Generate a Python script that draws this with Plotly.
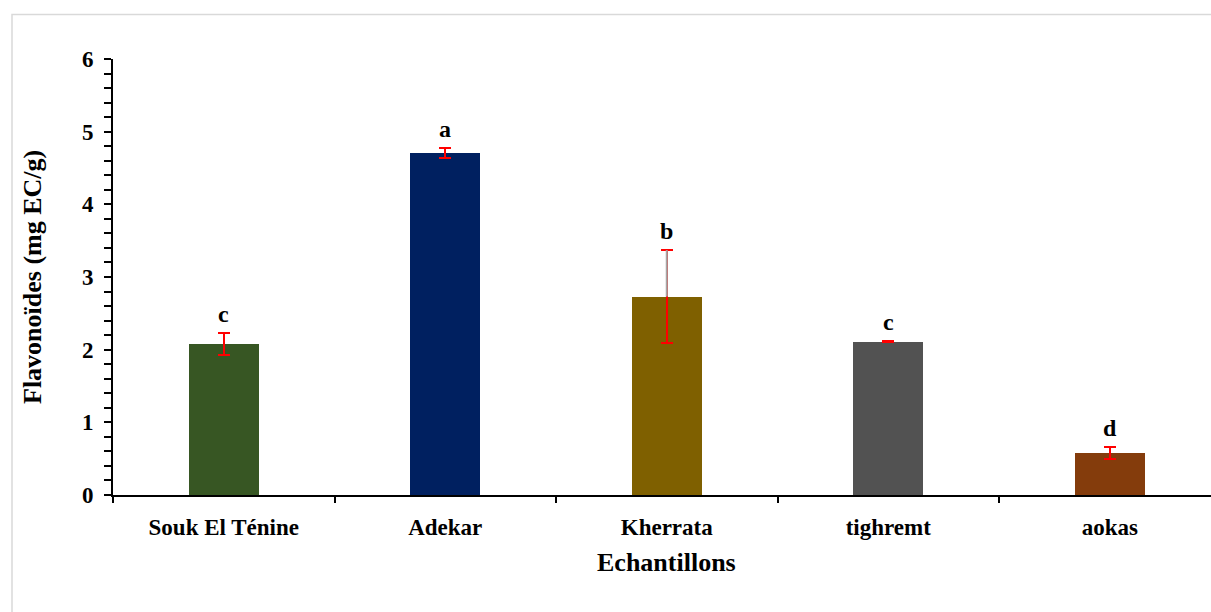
import plotly.graph_objects as go

# Flavonoid content per sample site (mg EC/g), mean ± standard deviation
sites = ["Souk El Ténine", "Adekar", "Kherrata", "tighremt", "aokas"]
means = [2.08, 4.71, 2.73, 2.11, 0.58]
sds = [0.15, 0.07, 0.64, 0.01, 0.085]
letters = ["c", "a", "b", "c", "d"]
colors = ["#375623", "#002060", "#7F6000", "#525252", "#843C0C"]
y_ticks = [0, 1, 2, 3, 4, 5, 6]

W, H = 1211, 612
ML, MR, MT, MB = 113, 0, 59, 117
plot_w = W - ML - MR
plot_h = H - MT - MB
step_px = 221.5  # pixel width of one category slot
x_max = -0.5 + plot_w / step_px

FONT = "Liberation Serif"

fig = go.Figure()

fig.add_trace(go.Bar(
    x=sites, y=means, width=0.316,
    marker=dict(color=colors, line=dict(width=0)),
    error_y=dict(type="data", array=sds, visible=True,
                 color="#FF0000", thickness=2, width=6),
    showlegend=False,
))

# Kherrata: upper whisker drawn in grey above the bar
k = sites.index("Kherrata")
fig.add_trace(go.Scatter(
    x=[sites[k]], y=[means[k]], mode="markers",
    marker=dict(size=1, opacity=0),
    error_y=dict(type="data", array=[sds[k]], arrayminus=[0], visible=True,
                 color="#A6A6A6", thickness=2, width=0),
    showlegend=False, hoverinfo="skip",
))

annotations = []
for s, m, e, l in zip(sites, means, sds, letters):
    annotations.append(dict(
        x=s, y=m + e, xref="x", yref="y", text=f"<b>{l}</b>",
        showarrow=False, yanchor="bottom", yshift=4,
        font=dict(family=FONT, size=24, color="black"),
    ))

def px_x(p):
    return (p - ML) / plot_w

def px_y(p):
    return (H - MB - p) / plot_h

annotations.append(dict(
    x=2, y=px_y(562), xref="x", yref="paper", text="<b>Echantillons</b>",
    showarrow=False, xanchor="center", yanchor="middle",
    font=dict(family=FONT, size=26, color="black"),
))
annotations.append(dict(
    x=px_x(32), y=px_y(277), xref="paper", yref="paper",
    text="<b>Flavonoïdes (mg EC/g)</b>", textangle=-90,
    showarrow=False, xanchor="center", yanchor="middle",
    font=dict(family=FONT, size=26, color="black"),
))

fig.update_layout(
    width=W, height=H,
    margin=dict(l=ML, r=MR, t=MT, b=MB, pad=0),
    paper_bgcolor="white", plot_bgcolor="white",
    bargap=0,
    annotations=annotations,
    shapes=[dict(
        type="rect", xref="paper", yref="paper",
        x0=px_x(12), x1=px_x(W + 20), y0=px_y(H + 20), y1=px_y(14.5),
        line=dict(color="#D9D9D9", width=1.5), layer="below",
    )],
    xaxis=dict(
        type="category", range=[-0.5, x_max],
        showline=True, linecolor="black", linewidth=2,
        ticks="outside", tickson="boundaries", ticklen=6, tickwidth=2,
        tickcolor="black", showgrid=False, zeroline=False,
        ticklabelstandoff=10,
        tickfont=dict(family=FONT, size=23, color="black", weight="bold"),
    ),
    yaxis=dict(
        range=[0, 6], tickvals=y_ticks, ticktext=[str(v) for v in y_ticks],
        showline=True, linecolor="black", linewidth=2,
        ticks="outside", ticklen=7, tickwidth=2, tickcolor="black",
        minor=dict(dtick=0.2, ticks="outside", ticklen=7, tickwidth=2,
                   tickcolor="black", showgrid=False),
        showgrid=False, zeroline=False,
        ticklabelstandoff=6,
        tickfont=dict(family=FONT, size=23, color="black", weight="bold"),
    ),
)

fig.write_html("out.html")
